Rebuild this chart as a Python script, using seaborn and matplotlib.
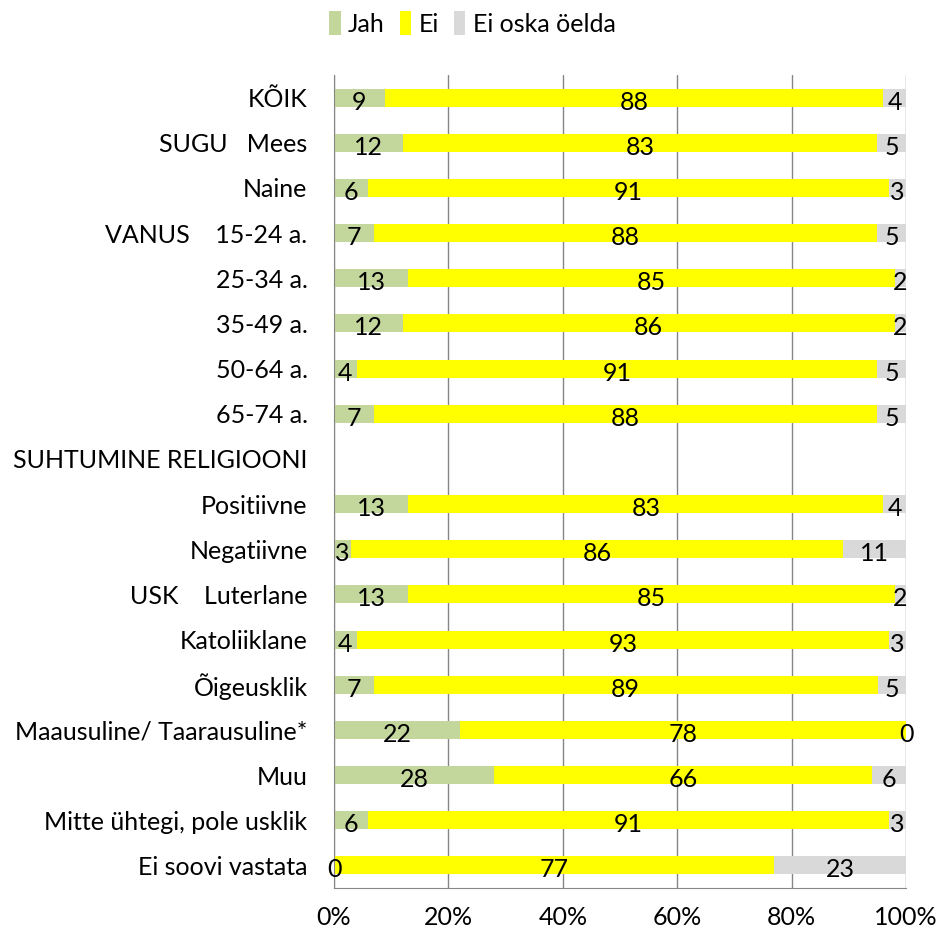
import numpy as np
import pandas as pd
import matplotlib
matplotlib.use("Agg")
import matplotlib.pyplot as plt
from matplotlib.patches import Patch
import seaborn as sns

# Kategooriad (ülevalt alla)
categories = [
    "KÕIK", "SUGU   Mees", "Naine", "VANUS    15-24 a.", "25-34 a.", "35-49 a.",
    "50-64 a.", "65-74 a.", "SUHTUMINE RELIGIOONI", "Positiivne", "Negatiivne",
    "USK    Luterlane", "Katoliiklane", "Õigeusklik", "Maausuline/ Taarausuline*",
    "Muu", "Mitte ühtegi, pole usklik", "Ei soovi vastata",
]
jah = [9, 12, 6, 7, 13, 12, 4, 7, np.nan, 13, 3, 13, 4, 7, 22, 28, 6, 0]
ei = [88, 83, 91, 88, 85, 86, 91, 88, np.nan, 83, 86, 85, 93, 89, 78, 66, 91, 77]
ei_oska = [4, 5, 3, 5, 2, 2, 5, 5, np.nan, 4, 11, 2, 3, 5, 0, 6, 3, 23]

series_names = ["Jah", "Ei", "Ei oska öelda"]
colors = ["#C3D69B", "#FFFF00", "#D9D9D9"]

df = pd.DataFrame({"cat": categories, "Jah": jah, "Ei": ei, "Ei oska öelda": ei_oska})
total = df[series_names].sum(axis=1, min_count=1)
pct = df[series_names].div(total, axis=0) * 100
cum = pct.cumsum(axis=1)

sns.set_style("white")
plt.rcParams["font.family"] = ["Lato", "DejaVu Sans"]
plt.rcParams["text.color"] = "black"
FS = 18

fig = plt.figure(figsize=(9.39, 9.31), dpi=100)
ax = fig.add_axes([0.3557, 0.0462, 0.6092, 0.8732])

# kihtidena: kõige laiem enne
for name, col in zip(series_names[::-1], colors[::-1]):
    sns.barplot(x=cum[name], y=df["cat"], order=categories, orient="h",
                color=col, saturation=1, width=0.4, linewidth=0, ax=ax, errorbar=None)

# väärtused segmentide keskele
for i in range(len(categories)):
    left = 0
    for name in series_names:
        v = df[name].iloc[i]
        w = pct[name].iloc[i]
        if np.isnan(v):
            continue
        ax.text(left + w / 2, i + 0.1, f"{int(v)}", ha="center", va="center",
                fontsize=FS, color="black")
        left += w

ax.set_xlim(0, 100)
ax.set_ylim(len(categories) - 0.5, -0.5)
ax.set_xticks(np.arange(0, 101, 20))
ax.set_xticklabels([f"{t}%" for t in range(0, 101, 20)], fontsize=FS)
ax.xaxis.grid(True, color="#868686", linewidth=1)
ax.set_axisbelow(True)
ax.set_xlabel("")
ax.set_ylabel("")
ax.tick_params(axis="y", which="major", length=0, labelsize=FS, pad=19, labelcolor="black")
ax.set_yticks(np.arange(-0.5, len(categories), 1), minor=True)
ax.tick_params(axis="y", which="minor", length=6, color="#868686", width=1)
ax.tick_params(axis="x", which="major", length=6, color="#868686", width=1, pad=7,
               labelcolor="black")
for s in ["top", "right"]:
    ax.spines[s].set_visible(False)
ax.spines["left"].set_color("#868686")
ax.spines["bottom"].set_color("#868686")

handles = [Patch(facecolor=c, edgecolor="none", label=n) for n, c in zip(series_names, colors)]
fig.legend(handles=handles, loc="center", bbox_to_anchor=(0.503, 0.975), ncol=3,
           frameon=False, fontsize=FS, handlelength=0.45, handleheight=1.1,
           handletextpad=0.3, columnspacing=0.6, labelcolor="black")

fig.savefig("out.png", dpi=100)
